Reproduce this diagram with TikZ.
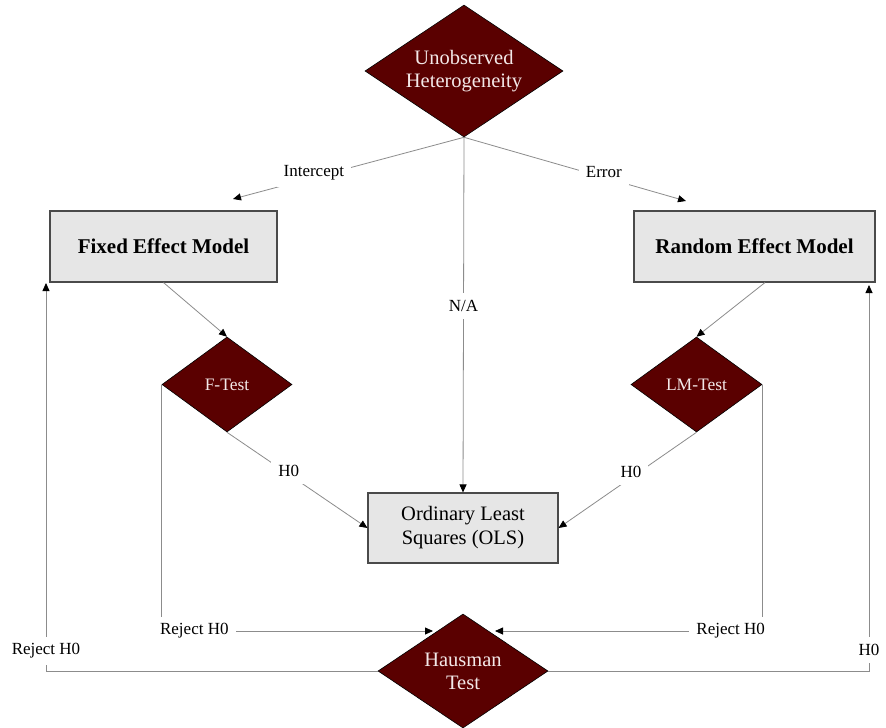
\documentclass[tikz,border=0pt]{standalone}
\usepackage{fontspec}
\setmainfont{Liberation Serif}
\usetikzlibrary{shapes.geometric,arrows.meta}
\definecolor{dmaroon}{HTML}{5A0000}
\definecolor{boxgray}{HTML}{E6E6E6}
\definecolor{boxedge}{HTML}{4A4A4A}
\definecolor{linegray}{HTML}{8C8C8C}
\definecolor{diatext}{HTML}{F3E8E8}
\begin{document}
\begin{tikzpicture}[x=1pt,y=-1pt,
  dia/.style={diamond, aspect=1.5, draw=black, line width=0.6pt, fill=dmaroon, text=diatext, inner sep=0pt, align=center, font=\fontsize{20.5}{23}\selectfont},
  smalldia/.style={dia, font=\fontsize{17.5}{20}\selectfont},
  modelbox/.style={rectangle, draw=boxedge, line width=1.1pt, fill=boxgray, align=center, inner sep=2pt},
  lbl/.style={fill=white, inner sep=7pt, font=\fontsize{17}{19}\selectfont},
  conn/.style={draw=linegray, line width=0.8pt, -{Triangle[length=8pt,width=7pt,color=black]}},
  plainline/.style={draw=linegray, line width=0.8pt}
]
\useasboundingbox[fill=white] (0,0) rectangle (886,728);

% nodes
\node[dia, minimum width=198pt, minimum height=132pt] (uh) at (464,71) {Unobserved\\Heterogeneity};
\node[modelbox, minimum width=227pt, minimum height=71pt, font=\bfseries\fontsize{21}{24}\selectfont] (fem) at (163.5,246.5) {Fixed Effect Model};
\node[modelbox, minimum width=241pt, minimum height=71pt, font=\bfseries\fontsize{21}{24}\selectfont] (rem) at (754.5,246.5) {Random Effect Model};
\node[smalldia, minimum width=130pt, minimum height=95pt] (ft) at (227,384.5) {F-Test};
\node[smalldia, minimum width=131pt, minimum height=95pt] (lm) at (696.5,384.5) {LM-Test};
\node[modelbox, minimum width=190pt, minimum height=70pt, font=\fontsize{20.5}{24}\selectfont] (ols) at (463,528) {Ordinary Least\\Squares (OLS)};
\node[dia, minimum width=170pt, minimum height=114pt] (haus) at (463,671) {Hausman\\Test};

% free ends
\coordinate (ci) at (233,199);
\coordinate (ce) at (686,201);
\coordinate (hl) at (433,631);
\coordinate (hr) at (495,631);
\coordinate (fl) at (46,283);
\coordinate (fr) at (869,285);

% connectors
\draw[conn] (uh.south) -- node[lbl, pos=0.65, yshift=5pt] {Intercept} (ci);
\draw[conn] (uh.south) -- node[lbl, pos=0.63, yshift=5pt] {Error} (ce);
\draw[conn] (uh.south) -- node[lbl, pos=0.475] {N/A} (ols.north);
\draw[conn] (fem.south) -- (ft.north);
\draw[conn] ([xshift=10.5pt]rem.south) -- (lm.north);
\draw[conn] (ft.south) -- node[lbl, pos=0.44, yshift=3pt] {H0} (ols.west);
\draw[conn] (lm.south) -- node[lbl, pos=0.475, yshift=6pt] {H0} (ols.east);
\draw[conn] (ft.west) |- node[lbl, pos=0.5, anchor=west, xshift=-9pt] {Reject H0} (hl);
\draw[conn] (lm.east) |- node[lbl, pos=0.5, anchor=east, xshift=10pt] {Reject H0} (hr);
\draw[conn] (haus.west) -| node[lbl, pos=0.5, yshift=20pt] {Reject H0} (fl);
\draw[conn] (haus.east) -| node[lbl, pos=0.5, yshift=21pt] {H0} (fr);
\end{tikzpicture}
\end{document}
